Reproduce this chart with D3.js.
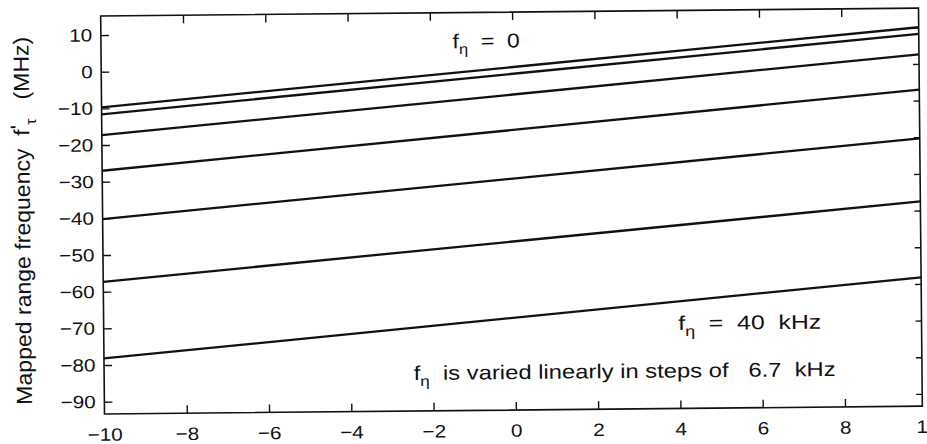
<!DOCTYPE html>
<html><head><meta charset="utf-8">
<script src="https://cdn.jsdelivr.net/npm/d3@7"></script>
<style>
body{margin:0;background:#fff}
svg text{font-family:"Liberation Sans",Arial,Helvetica,sans-serif;fill:#111;white-space:pre}
</style>
</head><body>
<svg id="chart" width="927" height="444"></svg>
<script>
// ---- data ----
const fEtaKHz = [0, 6.7, 13.3, 20, 26.7, 33.3, 40];           // one line per azimuth frequency
const xStartEnd = [-10, 9.88];                                  // x extent of each line
const valueAtStart = [-9.7, -11.6, -17.3, -27.0, -40.2, -57.3, -78.2];
const valueAtEnd   = [10.0, 8.2, 2.6, -7.0, -20.3, -37.5, -58.2];
const xTicks = [-10, -8, -6, -4, -2, 0, 2, 4, 6, 8, 10];
const yTicks = [10, 0, -10, -20, -30, -40, -50, -60, -70, -80, -90];
const xDomain = [-10, 10];
const yDomain = [-93.35, 15.2];
const xVisibleMax = 9.88;

const svg = d3.select("#chart");
const ink = "#111";
const SX = 1.15; // horizontal stretch of the scanned lettering

const x = d3.scaleLinear().domain(xDomain).range([104.5, 927.3]);
const y = d3.scaleLinear().domain(yDomain).range([414, 16]);

const g = svg.append("g").attr("transform", `rotate(-0.55, ${x(-10)}, ${y(yDomain[0])})`);

const fx0 = x(-10), fx1 = x(xVisibleMax), fy0 = y(yDomain[1]), fy1 = y(yDomain[0]);

// axes
const xb = g.append("g").attr("transform", `translate(0,${fy1})`)
  .call(d3.axisBottom(x).tickValues(xTicks).tickSizeInner(-8).tickSizeOuter(0).tickPadding(14));
const yl = g.append("g").attr("transform", `translate(${fx0},0)`)
  .call(d3.axisLeft(y).tickValues(yTicks).tickSizeInner(-8).tickSizeOuter(0).tickPadding(8));
const xt = g.append("g").attr("transform", `translate(0,${fy0})`)
  .call(d3.axisTop(x).tickValues(xTicks.filter(v => v > -10 && v < xVisibleMax)).tickSizeInner(-8).tickSizeOuter(0).tickFormat(""));
const yr = g.append("g").attr("transform", `translate(${fx1},0)`)
  .call(d3.axisRight(y).tickValues(yTicks).tickSizeInner(-6).tickSizeOuter(0).tickFormat(""));

[xb, yl, xt, yr].forEach(a => {
  a.select(".domain").remove();
  a.attr("font-family", null).attr("font-size", null);
  a.selectAll(".tick line").attr("stroke", ink).attr("stroke-width", 1.4);
  a.selectAll(".tick text").attr("font-size", 18).attr("fill", ink)
    .attr("transform", `scale(${SX},1)`);
});
xb.selectAll(".tick").filter(d => d === -10 || d > xVisibleMax).select("line").remove();
yl.selectAll(".tick text").attr("x", -7.5);

// frame
g.append("rect").attr("x", fx0).attr("y", fy0).attr("width", fx1 - fx0).attr("height", fy1 - fy0)
  .attr("fill", "none").attr("stroke", ink).attr("stroke-width", 1.6);

// lines
const line = d3.line().x(d => x(d[0])).y(d => y(d[1]));
const series = fEtaKHz.map((f, i) => ({ f, pts: [[xStartEnd[0], valueAtStart[i]], [xStartEnd[1], valueAtEnd[i]]] }));
g.append("g").selectAll("path").data(series).join("path")
  .attr("d", d => line(d.pts)).attr("fill", "none").attr("stroke", ink).attr("stroke-width", 2.3);

// annotations
function fEtaText(px, py, size, sx, rest, len) {
  const t = g.append("g").attr("transform", `translate(${px},${py}) scale(${sx},1)`)
    .append("text").attr("font-size", size);
  t.append("tspan").text("f");
  t.append("tspan").attr("dy", 6).attr("font-size", size * 0.72).text("η");
  t.append("tspan").attr("dy", -6).text(rest);
  if (len) t.attr("textLength", len).attr("lengthAdjust", "spacingAndGlyphs");
  return t;
}
fEtaText(456, 51.5, 20, SX, "  =  " + fEtaKHz[0]);
fEtaText(679, 335.5, 20, SX, "  =  " + fEtaKHz[fEtaKHz.length - 1] + "  kHz", 143 / SX);
fEtaText(414, 383, 20, SX, "  is varied linearly in steps of   " + fEtaKHz[1] + "  kHz", (836 - 414) / SX);

// y-axis label
const yl2 = g.append("g").attr("transform", `translate(32,220) scale(${SX},1) rotate(-90)`)
  .append("text").attr("text-anchor", "middle").attr("font-size", 19)
  .attr("textLength", 368).attr("lengthAdjust", "spacingAndGlyphs");
yl2.append("tspan").text("Mapped range frequency  f");
yl2.append("tspan").attr("dy", -3).text("'");
yl2.append("tspan").attr("dy", 9).attr("font-size", 13).text("τ");
yl2.append("tspan").attr("dy", -6).text("   (MHz)");
</script>
</body></html>
